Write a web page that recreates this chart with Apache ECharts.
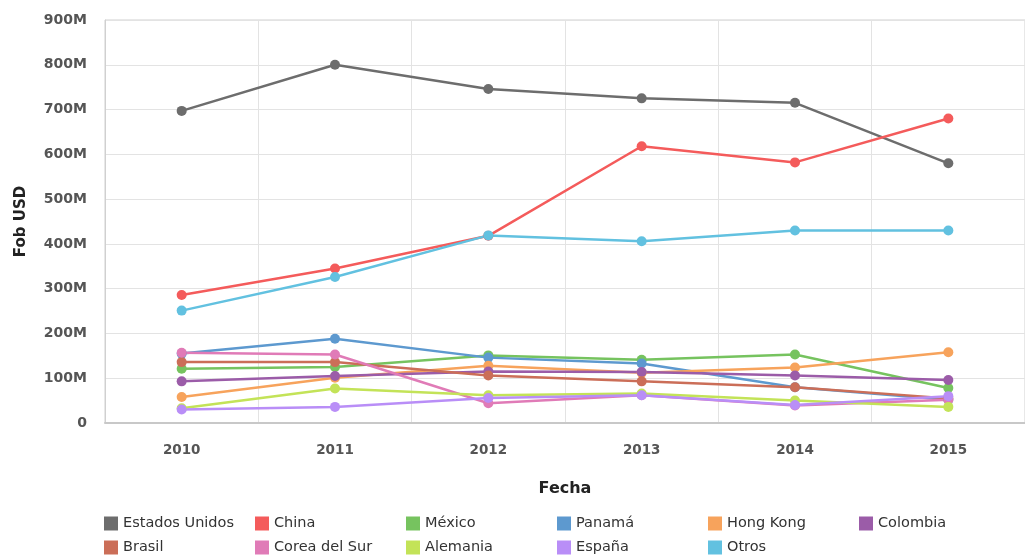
<!DOCTYPE html>
<html>
<head>
<meta charset="utf-8">
<script src="https://cdn.jsdelivr.net/npm/echarts@6/dist/echarts.min.js"></script>
<style>
  html, body { margin: 0; padding: 0; background: #fff; }
  #chart { width: 1025px; height: 557px; }
</style>
</head>
<body>
<div id="chart"></div>
<script>
// años
const years = ['2010', '2011', '2012', '2013', '2014', '2015'];

// valores en millones de USD
const estadosUnidos = [697, 800, 746, 725, 715, 580];
const china = [286, 345, 418, 618, 582, 680];
const mexico = [121, 125, 151, 141, 153, 78];
const panama = [155, 188, 146, 133, 80, 52];
const hongKong = [58, 101, 128, 112, 124, 158];
const colombia = [93, 105, 115, 114, 106, 96];
const brasil = [136, 136, 106, 93, 80, 55];
const coreaDelSur = [157, 153, 44, 62, 39, 52];
const alemania = [33, 77, 62, 66, 50, 36];
const espana = [30, 36, 56, 62, 40, 60];
const otros = [251, 326, 419, 406, 430, 430];

const yTicks = [0, 100, 200, 300, 400, 500, 600, 700, 800, 900];

const seriesDefs = [
  { name: 'Estados Unidos', data: estadosUnidos, color: '#6d6d6d' },
  { name: 'China', data: china, color: '#f45b5b' },
  { name: 'México', data: mexico, color: '#76c35f' },
  { name: 'Panamá', data: panama, color: '#5d99cf' },
  { name: 'Hong Kong', data: hongKong, color: '#f7a35c' },
  { name: 'Colombia', data: colombia, color: '#9b5ca8' },
  { name: 'Brasil', data: brasil, color: '#cb6e58' },
  { name: 'Corea del Sur', data: coreaDelSur, color: '#e07bb7' },
  { name: 'Alemania', data: alemania, color: '#c3e358' },
  { name: 'España', data: espana, color: '#b98ef7' },
  { name: 'Otros', data: otros, color: '#62c1e0' }
];

const font = 'DejaVu Sans, Verdana, sans-serif';

// una leyenda por elemento para tener columnas fijas (6 por fila)
const legends = seriesDefs.map((s, i) => ({
  left: 104 + 151 * (i % 6),
  top: i < 6 ? 516 : 540,
  icon: 'rect',
  itemWidth: 14,
  itemHeight: 14,
  itemGap: 5,
  selectedMode: false,
  padding: 0,
  data: [s.name],
  textStyle: { fontFamily: font, fontSize: 14.5, color: '#333' }
}));

const chart = echarts.init(document.getElementById('chart'));

chart.setOption({
  animation: false,
  backgroundColor: '#fff',
  textStyle: { fontFamily: font },
  grid: { left: 105, top: 20, right: -11, bottom: 134, show: true, borderColor: '#d0d0d0', borderWidth: 1 },
  legend: legends,
  xAxis: {
    type: 'category',
    data: years,
    boundaryGap: true,
    name: 'Fecha',
    nameLocation: 'middle',
    nameGap: 58,
    nameTextStyle: { fontFamily: font, fontSize: 16, fontWeight: 'bold', color: '#222' },
    axisLine: { lineStyle: { color: '#c8c8c8', width: 2 } },
    axisTick: { show: false },
    axisLabel: { fontFamily: font, fontSize: 13.5, fontWeight: 'bold', color: '#555', margin: 20 },
    splitLine: { show: true, lineStyle: { color: '#e3e3e3' } }
  },
  yAxis: {
    type: 'value',
    min: yTicks[0],
    max: yTicks[yTicks.length - 1],
    interval: 100,
    name: 'Fob USD',
    nameLocation: 'middle',
    nameGap: 76,
    nameTextStyle: { fontFamily: font, fontSize: 15, fontWeight: 'bold', color: '#222' },
    axisLine: { show: true, lineStyle: { color: '#d0d0d0' } },
    axisTick: { show: false },
    axisLabel: {
      fontFamily: font, fontSize: 14, fontWeight: 'bold', color: '#555', margin: 18,
      formatter: v => (v === 0 ? '0' : v + 'M')
    },
    splitLine: { show: true, lineStyle: { color: '#e3e3e3' } }
  },
  series: seriesDefs.map(s => ({
    name: s.name,
    type: 'line',
    data: s.data,
    color: s.color,
    symbol: 'circle',
    symbolSize: 10,
    lineStyle: { width: 2.5, color: s.color },
    itemStyle: { color: s.color }
  }))
});
</script>
</body>
</html>
